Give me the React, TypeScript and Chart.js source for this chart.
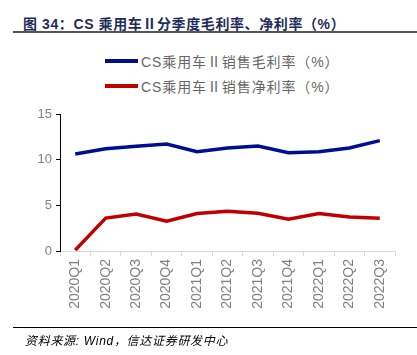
import React, { useEffect, useRef } from "react";
import { Chart, registerables } from "chart.js";

Chart.register(...registerables);

const categories = ["2020Q1", "2020Q2", "2020Q3", "2020Q4", "2021Q1", "2021Q2", "2021Q3", "2021Q4", "2022Q1", "2022Q2", "2022Q3"];
const grossMargin = [10.62, 11.2, 11.47, 11.72, 10.88, 11.28, 11.5, 10.77, 10.88, 11.28, 12.09];
const netMargin = [0.1, 3.6, 4.05, 3.25, 4.1, 4.35, 4.13, 3.47, 4.1, 3.72, 3.58];
const seriesNames = ["CS乘用车Ⅱ销售毛利率（%）", "CS乘用车Ⅱ销售净利率（%）"];
const yTicks = [0, 5, 10, 15];

const BLUE = "#000f8f";
const RED = "#c00000";
const FONT = "Arial, 'Liberation Sans', 'Noto Sans CJK SC', sans-serif";

export default function App() {
  const ref = useRef<HTMLCanvasElement | null>(null);

  useEffect(() => {
    if (!ref.current) return;
    const chart = new Chart(ref.current, {
      type: "line",
      data: {
        labels: categories,
        datasets: [
          { label: seriesNames[0], data: grossMargin, borderColor: BLUE, backgroundColor: BLUE, borderWidth: 3.5, pointRadius: 0, tension: 0 },
          { label: seriesNames[1], data: netMargin, borderColor: RED, backgroundColor: RED, borderWidth: 3.5, pointRadius: 0, tension: 0 },
        ],
      },
      options: {
        animation: false,
        responsive: false,
        maintainAspectRatio: false,
        layout: { padding: { left: 0, right: 22, top: 114, bottom: 0 } },
        plugins: { legend: { display: false }, tooltip: { enabled: false } },
        scales: {
          x: {
            offset: true,
            afterFit: (s: any) => { s.height = 104; },
            grid: { drawOnChartArea: false, drawTicks: true, tickLength: 5, color: "#d9d9d9", offset: true },
            border: { color: "#d9d9d9", width: 1 },
            ticks: { color: "#808080", font: { size: 14, family: FONT }, minRotation: 90, maxRotation: 90, padding: 3, autoSkip: false },
          },
          y: {
            min: 0,
            max: 15,
            afterFit: (s: any) => { s.width = 60; },
            afterBuildTicks: (s: any) => { s.ticks = yTicks.map((v) => ({ value: v })); },
            grid: { drawOnChartArea: false, drawTicks: true, tickLength: 4, color: "#000" },
            border: { color: "#000", width: 1 },
            ticks: { color: "#808080", font: { size: 13, family: FONT }, padding: 4 },
          },
        },
      },
    });
    return () => chart.destroy();
  }, []);

  const legendRow = (color: string, text: string, top: number) => (
    <div style={{ position: "absolute", left: 105, top: top - 10, height: 20, display: "flex", alignItems: "center" }}>
      <div style={{ width: 33, height: 4, background: color, marginRight: 3 }} />
      <span style={{ fontFamily: FONT, fontSize: 14, color: "#666", letterSpacing: 0.9, whiteSpace: "nowrap" }}>{text}</span>
    </div>
  );

  return (
    <div style={{ position: "fixed", left: 0, top: 0, width: 417, height: 355, background: "#fff", overflow: "hidden" }}>
      <div style={{ position: "absolute", left: 23, top: 13, fontFamily: FONT, fontWeight: "bold", fontSize: 14, color: "#1f2d5a", whiteSpace: "nowrap", letterSpacing: 0.6 }}>
        图 34：CS 乘用车Ⅱ分季度毛利率、净利率（%）
      </div>
      <div style={{ position: "absolute", left: 13, top: 31, width: 404, height: 2, background: "#555" }} />
      {legendRow(BLUE, seriesNames[0], 61)}
      {legendRow(RED, seriesNames[1], 86)}
      <canvas ref={ref} width={417} height={355} style={{ position: "absolute", left: 0, top: 0 }} />
      <div style={{ position: "absolute", left: 13, top: 327, width: 404, height: 1, background: "#000" }} />
      <div style={{ position: "absolute", left: 25, top: 331, fontFamily: FONT, fontStyle: "italic", fontSize: 12, color: "#000", whiteSpace: "nowrap", letterSpacing: 0.7 }}>
        资料来源: Wind，信达证券研发中心
      </div>
    </div>
  );
}
